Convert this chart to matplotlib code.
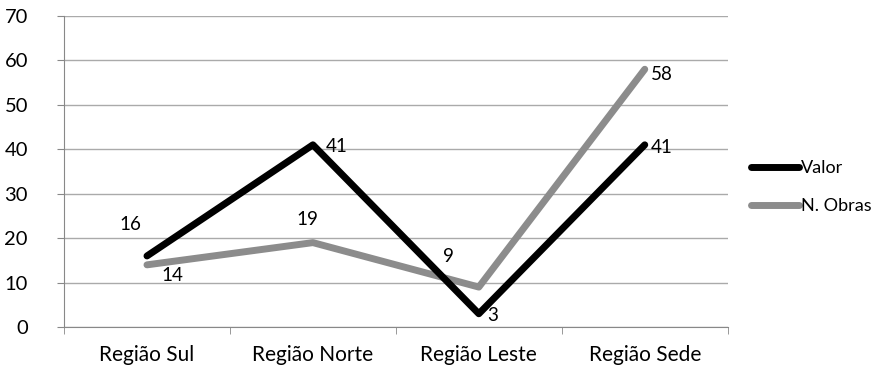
import matplotlib.pyplot as plt
import numpy as np

plt.rcParams['font.family'] = ['Lato', 'DejaVu Sans']

regioes = ["Região Sul", "Região Norte", "Região Leste", "Região Sede"]
valor = [16, 41, 3, 41]
obras = [14, 19, 9, 58]

# offsets (points) for the data labels
off_valor = [(-12, 23), (17, -1), (10, -1), (12, -2)]
off_obras = [(18, -8), (-4, 17), (-22, 22), (12, -4)]

fig = plt.figure(figsize=(8.71, 3.7), dpi=100)
ax = fig.add_axes([0.0735, 0.116, 0.762, 0.841])

x = np.arange(len(regioes)) + 0.5
ax.plot(x, valor, color="black", lw=5, solid_capstyle="round", label="Valor", zorder=3)
ax.plot(x, obras, color="#8c8c8c", lw=5, solid_capstyle="round", label="N. Obras", zorder=2)

for xi, v, o in zip(x, valor, off_valor):
    ax.annotate(str(v), (xi, v), xytext=o, textcoords="offset points",
                ha="center", va="center", fontsize=13.5)
for xi, v, o in zip(x, obras, off_obras):
    ax.annotate(str(v), (xi, v), xytext=o, textcoords="offset points",
                ha="center", va="center", fontsize=13.5)

ax.set_xlim(0, 4)
ax.set_ylim(0, 70)
ax.set_yticks(range(0, 71, 10))
ax.set_xticks(x)
ax.set_xticklabels(regioes)
ax.set_xticks(np.arange(0, 5), minor=True)
ax.tick_params(axis="x", which="major", length=0, pad=13, labelsize=15)
ax.tick_params(axis="x", which="minor", length=5, color="#888888")
ax.tick_params(axis="y", length=5, color="#888888", pad=21, labelsize=14.5)
ax.yaxis.grid(True, color="#aaaaaa", lw=1)
ax.set_axisbelow(True)
for s in ["top", "right"]:
    ax.spines[s].set_visible(False)
ax.spines["left"].set_color("#888888")
ax.spines["bottom"].set_color("#888888")

ax.legend(loc="center left", bbox_to_anchor=(1.01, 0.45), frameon=False,
          fontsize=13, handlelength=2.7, handletextpad=0.1, labelspacing=1.2)

fig.savefig("out.png", dpi=100)
